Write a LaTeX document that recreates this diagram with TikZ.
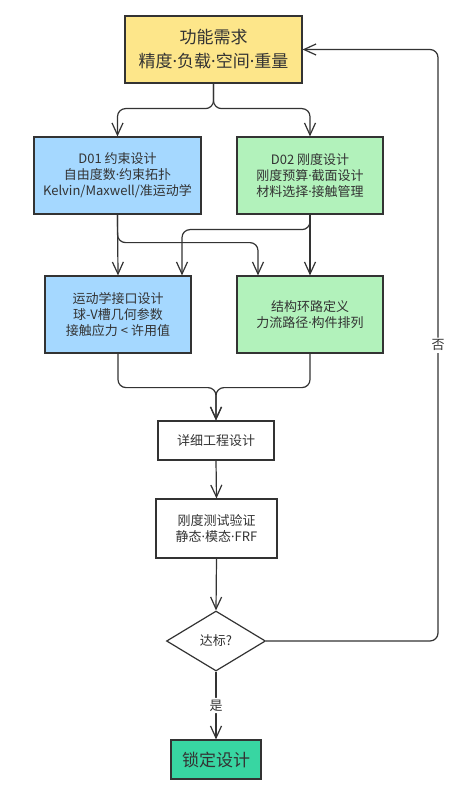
\documentclass[tikz,border=0pt]{standalone}
\usepackage{fontspec}
\setmainfont{Noto Sans CJK SC}
\newfontfamily\latf{Noto Sans}
\newcommand{\md}{{\latf ·}}
\usetikzlibrary{arrows.meta,shapes.geometric,calc}
\definecolor{ylw}{HTML}{FDE68A}
\definecolor{blu}{HTML}{A5D8FF}
\definecolor{grn}{HTML}{B2F2BB}
\definecolor{tea}{HTML}{38D6A2}
\definecolor{ink}{HTML}{333333}
\begin{document}
\begin{tikzpicture}[x=1pt,y=-1pt,
  box/.style={draw=ink,line width=1.2pt,inner sep=0pt,align=center,text=ink,font=\fontsize{13}{16}\selectfont},
  conn/.style={draw=ink,line width=1.2pt,rounded corners=8pt,-{Straight Barb[length=12pt,width=11pt]}},
  lbl/.style={fill=white,inner sep=2pt,text=ink,font=\fontsize{13}{16}\selectfont}]
\useasboundingbox[fill=white] (0,0) rectangle (470,794);
\node[box,fill=ylw,minimum width=177pt,minimum height=67pt,font=\fontsize{17}{24}\selectfont] (top) at (213.5,49.5) {功能需求\\精度\md 负载\md 空间\md 重量};
\node[box,fill=blu,minimum width=167pt,minimum height=77pt] (d01) at (117.5,175.5) {D01 约束设计\\自由度数\md 约束拓扑\\Kelvin/Maxwell/准运动学};
\node[box,fill=grn,minimum width=146pt,minimum height=77pt] (d02) at (310,175.5) {D02 刚度设计\\刚度预算\md 截面设计\\材料选择\md 接触管理};
\node[box,fill=blu,minimum width=146pt,minimum height=77pt] (kin) at (118,314.5) {运动学接口设计\\球-V槽几何参数\\接触应力 < 许用值};
\node[box,fill=grn,minimum width=146pt,minimum height=77pt] (loop) at (310,314.5) {结构环路定义\\力流路径\md 构件排列};
\node[box,fill=white,minimum width=116pt,minimum height=39pt] (det) at (216,440.5) {详细工程设计};
\node[box,fill=white,minimum width=121pt,minimum height=59pt] (test) at (216.5,528.5) {刚度测试验证\\静态\md 模态\md FRF};
\node[box,shape=diamond,fill=white,minimum width=99pt,minimum height=60pt] (dec) at (216,641) {达标?};
\node[box,fill=tea,minimum width=90pt,minimum height=39pt,font=\fontsize{17}{20}\selectfont] (lock) at (216,759.5) {锁定设计};
% top splits
\draw[conn] (top.south) -- ++(0,25) -| (d01.north);
\draw[conn] (top.south) -- ++(0,25) -| (d02.north);
% D01 / D02 to second row
\draw[conn] (d01.south) -- (kin.north);
\draw[conn] (d01.south) -- ++(0,28) -| ($(loop.north)+(-52,0)$);
\draw[conn] (d02.south) -- ++(0,15) -| ($(kin.north)+(64,0)$);
\draw[conn] (d02.south) -- (loop.north);
% merge to detail
\draw[conn] (kin.south) -- ++(0,34) -| (det.north);
\draw[conn] (loop.south) -- ++(0,34) -| (det.north);
\draw[conn] (det.south) -- (test.north);
\draw[conn] (test.south) -- (dec.north);
\draw[conn] (dec.south) -- node[lbl,pos=0.5] {是} (lock.north);
\draw[conn] (dec.east) -- (438,641) -- node[lbl,pos=0.5] {否} (438,49.5) -- (top.east);
\end{tikzpicture}
\end{document}
